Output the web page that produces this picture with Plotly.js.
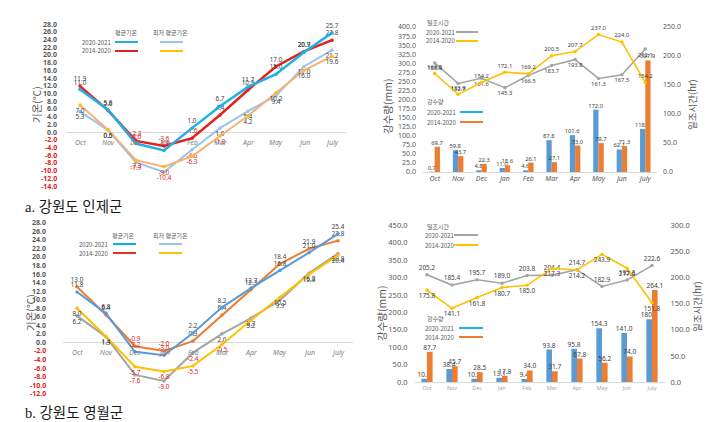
<!DOCTYPE html>
<html><head><meta charset="utf-8">
<script src="https://cdn.plot.ly/plotly-3.0.1.min.js"></script>
<style>body{margin:0;background:#fff}#chart{width:727px;height:422px}</style>
</head><body><div id="chart"></div>
<script>
const months = ['Oct','Nov','Dec','Jan','Feb','Mar','Apr','May','Jun','July'];

// a. Inje - temperature (°C)
const injeAvg2021 = [11.0, 5.8, -3.0, -4.8, 1.0, 6.7, 11.7, 15.0, 20.7, 25.7];
const injeAvg1420 = [11.9, 5.6, -2.3, -3.6, -1.6, 4.4, 10.9, 17.0, 20.9, 23.8];
const injeMin2021 = [5.3, 0.5, -7.9, -10.4, -4.6, 1.0, 5.4, 9.4, 17.0, 21.2];
const injeMin1420 = [7.0, 0.6, -7.3, -9.0, -6.3, -1.0, 4.2, 10.2, 16.0, 19.6];
// a. Inje - rainfall (mm) and sunshine (hr)
const injeRain2021 = [0.7, 59.8, 4.8, 11.0, 4.6, 87.8, 101.6, 172.0, 62.1, 118.9];
const injeRain1420 = [69.7, 43.7, 22.3, 18.6, 26.1, 27.1, 73.0, 79.7, 71.3, 307.9];
const injeSun2021 = [188.0, 152.7, 161.6, 145.3, 166.5, 183.7, 193.8, 161.3, 167.5, 212.1];
const injeSun1420 = [169.8, 133.9, 154.2, 172.1, 169.2, 200.5, 207.7, 237.0, 224.0, 154.2];

// b. Yeongwol - temperature (°C)
const yeongAvg2021 = [11.8, 6.8, -2.2, -3.0, 2.2, 8.2, 12.7, 16.8, 21.0, 25.4];
const yeongAvg1420 = [13.0, 6.4, -0.9, -2.0, 0.3, 6.4, 12.3, 18.4, 21.9, 23.8];
const yeongMin2021 = [6.2, 1.3, -7.6, -9.0, -2.4, 2.0, 5.7, 9.9, 16.2, 20.8];
const yeongMin1420 = [8.0, 1.4, -5.7, -6.8, -5.5, -0.5, 5.2, 10.5, 15.9, 20.4];
// b. Yeongwol - rainfall (mm) and sunshine (hr)
const yeongRain2021 = [10.5, 38.4, 10.0, 13.1, 9.4, 93.8, 95.8, 154.3, 141.0, 180.2];
const yeongRain1420 = [87.7, 45.7, 28.5, 17.8, 34.0, 31.7, 67.8, 56.2, 74.0, 264.1];
const yeongSun2021 = [205.2, 185.4, 195.7, 189.0, 203.8, 204.4, 214.7, 182.9, 195.3, 222.6];
const yeongSun1420 = [175.8, 141.1, 161.8, 180.7, 185.0, 217.3, 214.2, 243.9, 217.6, 151.8];

const W = 727, H = 422;
const X = p => p / W, Y = p => 1 - p / H;
const GRAY = '#595959', RED = '#e02020';
const FONT = 'Noto Sans, Noto Sans CJK KR, sans-serif';
const KFONT = 'Noto Sans CJK KR, Noto Sans, sans-serif';

const fmt = v => v.toFixed(1);
const labColors = arr => arr.map(v => v < 0 ? RED : '#404040');

function tempLine(y, xa, ya, color, width, mcolor, pos) {
  return {type:'scatter', mode:'lines+markers+text', x:months, y:y, xaxis:xa, yaxis:ya,
    line:{color:color, width:width}, marker:{size:3.5, color:mcolor||color},
    text:y.map(fmt), textposition:pos, cliponaxis:false,
    textfont:{family:FONT, size:6.3, color:labColors(y)}, hoverinfo:'skip'};
}
function sunLine(y, xa, ya, color, pos, size) {
  return {type:'scatter', mode:'lines+markers+text', x:months, y:y, xaxis:xa, yaxis:ya,
    line:{color:color, width:1.6}, marker:{size:3.5, color:color},
    text:y.map(fmt), textposition:pos, cliponaxis:false,
    textfont:{family:FONT, size:size, color:'#404040'}, hoverinfo:'skip'};
}
function rainBar(y, xa, ya, color, size) {
  return {type:'bar', x:months, y:y, xaxis:xa, yaxis:ya, marker:{color:color},
    text:y.map(fmt), textposition:'outside', constraintext:'none', cliponaxis:false,
    textfont:{family:FONT, size:size, color:'#404040'}, hoverinfo:'skip'};
}

const traces = [
  tempLine(injeMin2021, 'x', 'y', '#9dc3e6', 2, '#9dc3e6', 'bottom center'),
  tempLine(injeMin1420, 'x', 'y', '#f6b07a', 2, '#ffc000', 'bottom center'),
  tempLine(injeAvg1420, 'x', 'y', '#e3211c', 2.5, '#e3211c', 'top center'),
  tempLine(injeAvg2021, 'x', 'y', '#1fb1e6', 2.5, '#1fb1e6', 'top center'),

  rainBar(injeRain2021, 'x2', 'y2', '#5b9bd5', 5.8),
  rainBar(injeRain1420, 'x2', 'y2', '#ed7d31', 5.8),
  sunLine(injeSun2021, 'x2', 'y3', '#a5a5a5', 'bottom center', 5.8),
  sunLine(injeSun1420, 'x2', 'y3', '#ffc000', 'top center', 5.8),

  tempLine(yeongMin2021, 'x3', 'y4', '#a5a5a5', 2, '#a5a5a5', 'bottom center'),
  tempLine(yeongMin1420, 'x3', 'y4', '#ffc000', 2, '#ffc000', 'bottom center'),
  tempLine(yeongAvg1420, 'x3', 'y4', '#ed7d31', 2, '#ed7d31', 'top center'),
  tempLine(yeongAvg2021, 'x3', 'y4', '#5b9bd5', 2, '#5b9bd5', 'top center'),

  rainBar(yeongRain2021, 'x4', 'y5', '#5b9bd5', 6.5),
  rainBar(yeongRain1420, 'x4', 'y5', '#ed7d31', 6.5),
  sunLine(yeongSun2021, 'x4', 'y6', '#a5a5a5', 'top center', 6.5),
  sunLine(yeongSun1420, 'x4', 'y6', '#ffc000', 'bottom center', 6.5)
];

const catAxis = (d, anchor, extra) => Object.assign({domain:d, anchor:anchor, type:'category',
  range:[-0.5, 9.5], showgrid:false, zeroline:false, ticks:'', fixedrange:true}, extra);
const valAxis = (d, anchor, extra) => Object.assign({domain:d, anchor:anchor, showgrid:false,
  zeroline:false, ticks:'', showline:false, fixedrange:true,
  tickfont:{family:FONT, size:7, color:GRAY}}, extra);

const ann = [];
function txt(t, x, y, o) {
  o = o || {};
  ann.push({text:t, xref:'paper', yref:'paper', x:X(x), y:Y(y), showarrow:false,
    xanchor:o.xanchor || 'center', yanchor:'middle', textangle:o.angle || 0,
    font:Object.assign({family:KFONT, size:6, color:GRAY}, o.font || {})});
}
const shapes = [];
function seg(x0, x1, y, color) {
  shapes.push({type:'line', xref:'paper', yref:'paper', x0:X(x0), x1:X(x1), y0:Y(y), y1:Y(y),
    line:{color:color, width:2}});
}

// temperature axis tick labels (negative values in red), placed on the y scale
function tempTicks(lo, hi, yref, rightEdge) {
  for (let v = lo; v <= hi; v += 2) {
    ann.push({text:v.toFixed(1), xref:'paper', yref:yref, x:X(rightEdge), y:v, xanchor:'right',
      yanchor:'middle', showarrow:false,
      font:{family:FONT, size:7, color:v < 0 ? RED : GRAY, weight:'bold'}});
  }
}
tempTicks(-14, 28, 'y', 58.5);
tempTicks(-12, 28, 'y4', 47.5);

// temperature category labels on the zero line
months.forEach(m => {
  ann.push({text:m, xref:'x', yref:'y', x:m, y:0, yshift:-10, showarrow:false,
    font:{family:FONT, size:7, color:'#7f7f7f', style:'italic'}});
  ann.push({text:m, xref:'x3', yref:'y4', x:m, y:0, yshift:-10, showarrow:false,
    font:{family:FONT, size:7, color:'#7f7f7f', style:'italic'}});
});

// legends
txt('평균기온', 127, 33); txt('최저 평균기온', 170, 33);
txt('2020-2021', 80, 42, {xanchor:'left'}); txt('2014-2020', 80, 51, {xanchor:'left'});
seg(115, 138, 42, '#1fb1e6'); seg(115, 138, 51, '#e3211c');
seg(160, 183, 42, '#9dc3e6'); seg(160, 183, 51, '#ffc000');

txt('일조시간', 438, 23);
txt('2020-2021', 424, 32, {xanchor:'left'}); txt('2014-2020', 424, 41, {xanchor:'left'});
seg(456, 478, 32, '#a5a5a5'); seg(456, 478, 41, '#ffc000');
txt('강수량', 435, 102);
txt('2020-2021', 425, 112, {xanchor:'left'}); txt('2014-2020', 425, 122, {xanchor:'left'});
seg(460, 483, 112, '#1fb4e8'); seg(460, 483, 122, '#ed7d31');

txt('평균기온', 123, 235); txt('최저 평균기온', 170, 235);
txt('2020-2021', 77, 244, {xanchor:'left'}); txt('2014-2020', 77, 253, {xanchor:'left'});
seg(113, 136, 244, '#00b0f0'); seg(113, 136, 253, '#e03030');
seg(159, 182, 244, '#9dc3e6'); seg(159, 182, 253, '#ffc000');

txt('일조시간', 438, 227);
txt('2020-2021', 423, 235, {xanchor:'left'}); txt('2014-2020', 423, 245, {xanchor:'left'});
seg(454, 478, 235, '#a5a5a5'); seg(454, 478, 245, '#ffc000');
txt('강수량', 435, 318);
txt('2020-2021', 423, 328, {xanchor:'left'}); txt('2014-2020', 423, 337, {xanchor:'left'});
seg(459, 483, 328, '#1fb4e8'); seg(459, 483, 337, '#ed7d31');

// axis titles
txt('기온(℃)', 37, 105, {angle:-90, font:{size:10.5}});
txt('기온(℃)', 30, 313, {angle:-90, font:{size:10.5}});
txt('강수량(mm)', 387, 106, {angle:-90, font:{size:10.5}});
txt('일조시간(hr)', 692, 105, {angle:-90, font:{size:9.5}});
txt('강수량(mm)', 381, 313, {angle:-90, font:{size:10.5}});
txt('일조시간(hr)', 697, 307, {angle:-90, font:{size:9.5}});

// captions
txt('a. 강원도 인제군', 23, 207, {xanchor:'left', font:{family:'Liberation Serif, Noto Sans CJK KR, serif', size:14.5, color:'#1a1a1a'}});
txt('b. 강원도 영월군', 23, 413, {xanchor:'left', font:{family:'Liberation Serif, Noto Sans CJK KR, serif', size:14.5, color:'#1a1a1a'}});

const layout = {
  width:W, height:H, margin:{l:0, r:0, t:0, b:0}, paper_bgcolor:'#fff', plot_bgcolor:'rgba(0,0,0,0)',
  showlegend:false, barmode:'group', bargap:0.55, bargroupgap:0,
  xaxis: catAxis([X(66), X(346)], 'y', {showticklabels:false, showline:false}),
  yaxis: valAxis([Y(186), Y(24)], 'x', {range:[-14, 28], showticklabels:false,
    zeroline:true, zerolinecolor:'#d9d9d9', zerolinewidth:1}),
  xaxis2: catAxis([X(423), X(657)], 'y2', {showline:true, linecolor:'#d9d9d9',
    tickfont:{family:FONT, size:7, color:GRAY, style:'italic'}}),
  yaxis2: valAxis([Y(172), Y(27)], 'x2', {range:[0, 400], dtick:25, tickformat:'.1f', ticklabelstandoff:6}),
  yaxis3: valAxis([Y(172), Y(27)], 'x2', {overlaying:'y2', side:'right', range:[0, 250], dtick:50,
    tickformat:'.1f', ticklabelstandoff:5}),
  xaxis3: catAxis([X(62.5), X(352.5)], 'y4', {showticklabels:false, showline:false}),
  yaxis4: valAxis([Y(393.7), Y(222.7)], 'x3', {range:[-12, 28], showticklabels:false,
    zeroline:true, zerolinecolor:'#d9d9d9', zerolinewidth:1}),
  xaxis4: catAxis([X(414.5), X(664.5)], 'y5', {showline:true, linecolor:'#d9d9d9',
    tickfont:{family:FONT, size:5.5, color:'#a6a6a6'}}),
  yaxis5: valAxis([Y(382.3), Y(225)], 'x4', {range:[0, 450], dtick:50, tickformat:'.1f', ticklabelstandoff:6,
    tickfont:{family:FONT, size:7.5, color:GRAY}}),
  yaxis6: valAxis([Y(382.3), Y(225)], 'x4', {overlaying:'y5', side:'right', range:[0, 300], dtick:50,
    tickformat:'.1f', ticklabelstandoff:5, tickfont:{family:FONT, size:7.5, color:GRAY}}),
  annotations: ann, shapes: shapes
};

Plotly.newPlot('chart', traces, layout, {staticPlot:true, displayModeBar:false});
</script>
</body></html>
